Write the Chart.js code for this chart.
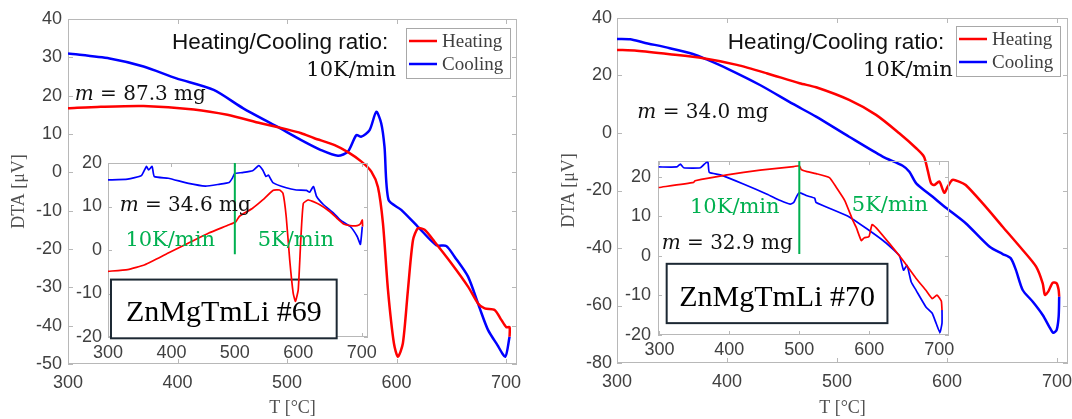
<!DOCTYPE html>
<html>
<head>
<meta charset="utf-8">
<script src="https://cdn.jsdelivr.net/npm/chart.js@4.4.1/dist/chart.umd.min.js"></script>
<style>
  html, body { margin: 0; padding: 0; background: #fff; }
  #wrap { position: relative; width: 1072px; height: 419px; }
  #wrap canvas { position: absolute; left: 0; top: 0; }
</style>
</head>
<body>
<div id="wrap">
  <canvas id="main69" width="1072" height="419"></canvas>
  <canvas id="inset69" width="1072" height="419"></canvas>
  <canvas id="main70" width="1072" height="419"></canvas>
  <canvas id="inset70" width="1072" height="419"></canvas>
</div>
<script>
// tick labels
const tempTicks = [300, 400, 500, 600, 700];
const dtaTicks69 = [-50, -40, -30, -20, -10, 0, 10, 20, 30, 40];
const dtaTicks70 = [-80, -60, -40, -20, 0, 20, 40];
const insetTicks = [-20, -10, 0, 10, 20];

// #69, main plot (10 K/min)
const heat69T = [300, 330, 369, 415, 445.5, 476, 500, 513, 525, 543.5, 556, 568, 577, 583, 587.6, 592.2, 597.6, 601.3, 605.8, 610.4, 615, 619.5, 625.6, 634.7, 650, 665.3, 674.4, 680.5, 689.6, 695.7, 700.3, 703.2, 703.2];
const heat69V = [16.7, 17.1, 17.3, 16.4, 15.0, 12.8, 11.2, 10.2, 8.9, 7.1, 5.2, 2.8, 0.2, -3.8, -13.3, -30.7, -44.6, -48.1, -44.6, -30.7, -17.7, -14.6, -15.0, -18.1, -23.7, -29.8, -34.2, -35.5, -35.9, -38.5, -40.4, -40.4, -42.9];
const cool69T = [300, 338, 369, 399, 433, 460, 491, 513, 531, 546.5, 555.6, 563.3, 567.8, 575.4, 581.5, 586, 589, 592.7, 604.3, 619.5, 636.3, 645.4, 653, 665.3, 676, 683.5, 692, 699.3, 703.2];
const cool69V = [31.0, 29.7, 27.6, 24.5, 21.5, 16.7, 11.9, 8.4, 5.8, 4.3, 5.4, 9.7, 9.3, 11.0, 15.8, 12.8, 6.7, -7.2, -9.8, -14.2, -19.0, -19.2, -22.0, -27.2, -35.5, -41.1, -45.0, -48.1, -42.9];

// #69, inset (10 K/min then 5 K/min)
const heat69iT = [300, 331, 358, 395, 427, 459, 491, 501.5, 507, 528, 544, 560, 570.6, 576, 581, 586.5, 592, 595.6, 600, 604, 608, 616, 634, 650, 661, 671.6, 682, 693, 698, 701, 701.5];
const heat69iV = [-4.9, -4.5, -3.4, -0.7, 1.6, 3.9, 5.8, 6.5, 7.7, 9.6, 11.5, 13.7, 13.8, 13.0, 7.7, -2.2, -9.9, -11.8, -9.1, 2.3, 10.7, 11.5, 10.4, 8.8, 7.3, 6.0, 5.6, 5.6, 6.0, 6.9, 5.4];
const cool69iT = [300, 331, 352.6, 360.6, 364, 369.6, 373, 395, 427, 453.6, 475, 491, 496, 500, 512, 528, 537.6, 544, 549, 553, 560, 581, 597, 613, 618, 624, 629, 640, 655.7, 666, 682, 693, 698, 701];
const cool69iV = [16.1, 16.3, 17.1, 19.2, 18.4, 19.2, 16.9, 16.5, 15.3, 14.7, 15.1, 15.5, 16.5, 17.6, 17.8, 18.2, 19.4, 18.4, 16.9, 17.2, 15.5, 14.3, 13.8, 13.7, 13.3, 14.6, 12.3, 10.4, 8.5, 6.9, 5.4, 3.1, 1.3, 5.4];
const split69T = [500, 500];
const split69V = [20, -1];

// #70, main plot (10 K/min)
const heat70T = [300, 318, 348, 378.5, 409, 436, 466, 481, 511, 535.5, 556.6, 572, 579, 582.4, 585.5, 588.5, 593, 597.5, 600.6, 605, 611, 617, 632.5, 650.6, 668.8, 681, 687, 689, 692, 696, 699.7, 701.5, 702];
const heat70V = [28.9, 28.6, 27.4, 26.0, 23.7, 20.8, 17.3, 15.9, 11.5, 6.3, -0.1, -5.3, -8.2, -12.9, -17.5, -18.1, -16.9, -20.8, -18.7, -16.3, -16.9, -18.1, -24.5, -32.6, -40.7, -46.5, -52.3, -56.3, -55.2, -52.1, -52.3, -54.6, -56.9];
const cool70T = [300, 312, 324, 348, 369, 381.5, 399.7, 430, 460, 481, 511, 541.5, 559.7, 565.8, 572, 587, 599, 617, 638.5, 650.6, 658, 662.7, 668.8, 678, 687, 693, 696.6, 699.7, 701.5, 702];
const cool70V = [32.7, 32.6, 31.5, 29.5, 27.5, 25.6, 22.5, 16.7, 10.1, 5.7, -1.3, -8.2, -11.4, -13.5, -17.5, -22.2, -26.0, -31.4, -39.5, -42.1, -43.6, -47.7, -54.6, -58.7, -63.3, -67.4, -69.5, -68.5, -63.9, -56.9];

// #70, inset (10 K/min then 5 K/min)
const heat70iT = [299, 349, 351, 396.7, 444, 492, 500, 503, 511, 524, 543, 553, 565, 576.7, 581.4, 588.6, 593, 599.6, 604, 610, 629, 648, 667, 681, 690, 696.7, 703, 704];
const heat70iV = [17.3, 18.6, 19.0, 20.5, 21.7, 22.6, 22.8, 21.8, 21.3, 20.8, 19.8, 17.3, 14.0, 8.9, 7.2, 3.9, 4.6, 4.9, 7.9, 7.1, 3.1, -1.1, -5.7, -8.7, -10.8, -9.9, -11.4, -13.7];
const cool70iT = [299, 325, 330, 334.7, 358.6, 366.7, 369.5, 371.4, 387, 420, 454, 473, 487, 492, 496.7, 500, 511, 522, 524, 572, 619.6, 643, 649, 654, 660, 667, 681, 690, 695.7, 701, 704, 704];
const cool70iV = [22.5, 22.5, 23.2, 22.3, 22.3, 23.6, 23.6, 21.1, 20.5, 18.2, 15.6, 14.0, 13.1, 13.5, 15.2, 16.0, 15.2, 14.6, 13.5, 9.8, 3.9, 0.1, -3.6, -2.4, -6.6, -8.7, -12.9, -14.5, -17.1, -19.4, -17.0, -13.7];
const split70T = [500, 500];
const split70V = [24, 0.5];

const RED = '#ff0000', BLUE = '#0000ff', GREEN = '#00b050';
const TICK_FONT = { family: 'Liberation Sans, Arial, sans-serif', size: 18 };
const SANS = 'Liberation Sans, Arial, sans-serif';
const SERIF = 'Liberation Serif, Times New Roman, serif';
const MATH = 'DejaVu Serif, serif';

function pts(xs, ys) {
  return xs.map((x, i) => ({ x: x, y: ys[i] }));
}

function series(label, xs, ys, color, width, tension) {
  return {
    label: label, data: pts(xs, ys), showLine: true, borderColor: color,
    backgroundColor: color, borderWidth: width, pointRadius: 0, tension: tension || 0
  };
}

// frame with inward ticks, label box, free texts and legend
const boxPlugin = {
  id: 'box',
  beforeDatasetsDraw(chart, args, opts) {
    const a = chart.chartArea, ctx = chart.ctx;
    const sx = chart.scales.x, sy = chart.scales.y;
    ctx.save();
    ctx.strokeStyle = '#b8b8b8';
    ctx.lineWidth = 1;
    ctx.strokeRect(a.left + 0.5, a.top + 0.5, a.right - a.left - 1, a.bottom - a.top - 1);
    const t = opts.tick;
    ctx.beginPath();
    sx.ticks.forEach(k => {
      const px = Math.round(sx.getPixelForValue(k.value)) + 0.5;
      ctx.moveTo(px, a.bottom); ctx.lineTo(px, a.bottom - t);
      ctx.moveTo(px, a.top); ctx.lineTo(px, a.top + t);
    });
    sy.ticks.forEach(k => {
      const py = Math.round(sy.getPixelForValue(k.value)) + 0.5;
      ctx.moveTo(a.left, py); ctx.lineTo(a.left + t, py);
      ctx.moveTo(a.right, py); ctx.lineTo(a.right - t, py);
    });
    ctx.stroke();
    if (opts.tag) {
      const g = opts.tag;
      const x0 = sx.getPixelForValue(g.x0), x1 = sx.getPixelForValue(g.x1);
      const y0 = sy.getPixelForValue(g.y0), y1 = sy.getPixelForValue(g.y1);
      ctx.fillStyle = '#fff';
      ctx.fillRect(x0, y0, x1 - x0, y1 - y0);
      ctx.strokeStyle = '#1c2833';
      ctx.lineWidth = 2;
      ctx.strokeRect(x0, y0, x1 - x0, y1 - y0);
      ctx.fillStyle = '#000';
      ctx.font = '30px ' + SERIF;
      ctx.textAlign = 'center';
      ctx.textBaseline = 'alphabetic';
      ctx.fillText(g.text, (x0 + x1) / 2, y1 - 17);
    }
    ctx.restore();
  },
  afterDatasetsDraw(chart, args, opts) {
    const a = chart.chartArea, ctx = chart.ctx;
    const sx = chart.scales.x, sy = chart.scales.y;
    ctx.save();
    ctx.textBaseline = 'alphabetic';
    (opts.notes || []).forEach(n => {
      let px = sx.getPixelForValue(n.x);
      const py = sy.getPixelForValue(n.y);
      ctx.fillStyle = n.color || '#000';
      if (n.mass) {
        ctx.textAlign = 'left';
        ctx.font = 'italic 20px ' + MATH;
        ctx.fillText('m', px, py);
        px += ctx.measureText('m').width;
        ctx.font = '20px ' + MATH;
        ctx.fillText(' = ' + n.mass + ' mg', px, py);
        return;
      }
      ctx.font = n.font;
      ctx.textAlign = n.align || 'left';
      ctx.fillText(n.text, px, py);
    });
    if (opts.legend) {
      const w = 104, h = 50;
      const bx = a.right - opts.legend.right - w, by = a.top + opts.legend.top;
      ctx.fillStyle = '#fff';
      ctx.fillRect(bx, by, w, h);
      ctx.strokeStyle = '#a8a8a8';
      ctx.lineWidth = 1;
      ctx.strokeRect(bx + 0.5, by + 0.5, w, h);
      const items = chart.data.datasets.filter(d => d.label);
      items.forEach((d, i) => {
        const ly = by + 13 + i * 23;
        ctx.strokeStyle = d.borderColor;
        ctx.lineWidth = 2.5;
        ctx.beginPath();
        ctx.moveTo(bx + 3, ly); ctx.lineTo(bx + 31, ly);
        ctx.stroke();
        ctx.fillStyle = '#404040';
        ctx.font = '19px ' + SERIF;
        ctx.textAlign = 'left';
        ctx.textBaseline = 'middle';
        ctx.fillText(d.label, bx + 36, ly + 1);
      });
    }
    ctx.restore();
  }
};

function makeChart(id, cfg) {
  return new Chart(document.getElementById(id), {
    type: 'scatter',
    data: { datasets: cfg.datasets },
    options: {
      responsive: false,
      animation: false,
      devicePixelRatio: 1,
      layout: { padding: cfg.pad },
      plugins: { legend: { display: false }, tooltip: { enabled: false }, box: cfg.box },
      scales: {
        x: {
          type: 'linear', min: cfg.xMin, max: cfg.xMax,
          afterBuildTicks: s => { s.ticks = tempTicks.map(v => ({ value: v })); },
          afterFit: s => { s.height = cfg.xH; s.paddingLeft = 0; s.paddingRight = 0; },
          grid: { display: false, drawTicks: false },
          border: { display: false },
          ticks: { font: TICK_FONT, color: '#404040', padding: cfg.xPad, maxRotation: 0, autoSkip: false },
          title: cfg.main ? { display: true, text: 'T [°C]', color: '#505050',
            font: { family: SERIF, size: 18 }, padding: { top: 0, bottom: 0 } } : { display: false }
        },
        y: {
          type: 'linear', min: cfg.yMin, max: cfg.yMax,
          afterBuildTicks: s => { s.ticks = cfg.yTicks.map(v => ({ value: v })); },
          afterFit: s => { s.width = cfg.yW; s.paddingTop = 0; s.paddingBottom = 0; },
          grid: { display: false, drawTicks: false },
          border: { display: false },
          ticks: { font: TICK_FONT, color: '#404040', padding: cfg.yPad, autoSkip: false },
          title: cfg.main ? { display: true, text: 'DTA [\u03bcV]', color: '#505050',
            font: { family: SERIF, size: 18 }, padding: { top: 8, bottom: 0 } } : { display: false }
        }
      }
    },
    plugins: [boxPlugin]
  });
}

// left sample, #69
makeChart('main69', {
  main: true, pad: { left: 0, top: 19, right: 555, bottom: 0 }, yW: 68, xH: 55, xPad: 8, yPad: 6,
  xMin: 300, xMax: 710, yMin: -50, yMax: 40, yTicks: dtaTicks69,
  datasets: [series('Heating', heat69T, heat69V, RED, 2.5, 0.25), series('Cooling', cool69T, cool69V, BLUE, 2.5, 0.25)],
  box: {
    tick: 5,
    legend: { right: 7, top: 9 },
    notes: [
      { text: 'Heating/Cooling ratio:', x: 592.5, y: 32.2, font: '22.5px ' + SANS, align: 'right', color: '#111' },
      { text: '10K/min', x: 599.5, y: 25.1, font: '21px ' + MATH, align: 'right', color: '#111' },
      { mass: '87.3', x: 306.2, y: 18.9, color: '#111' }
    ]
  }
});

makeChart('inset69', {
  main: false, pad: { left: 68, top: 163, right: 704, bottom: 52 }, yW: 40, xH: 30, xPad: 5, yPad: 6,
  xMin: 300, xMax: 710, yMin: -20, yMax: 20, yTicks: insetTicks,
  datasets: [
    series('', split69T, split69V, GREEN, 2),
    series('', heat69iT, heat69iV, RED, 1.7, 0.15),
    series('', cool69iT, cool69iV, BLUE, 1.7, 0.15)
  ],
  box: {
    tick: 4,
    tag: { text: 'ZnMgTmLi #69', x0: 304.7, x1: 660.6, y0: -6.8, y1: -20.3 },
    notes: [
      { mass: '34.6', x: 318.4, y: 9.0, color: '#111' },
      { text: '10K/min', x: 327.4, y: 0.9, font: '21px ' + MATH, color: GREEN },
      { text: '5K/min', x: 536, y: 0.9, font: '21px ' + MATH, color: GREEN }
    ]
  }
});

// right sample, #70
makeChart('main70', {
  main: true, pad: { left: 550, top: 18, right: 4, bottom: 0 }, yW: 67, xH: 56, xPad: 8, yPad: 5,
  xMin: 300, xMax: 710, yMin: -80, yMax: 40, yTicks: dtaTicks70,
  datasets: [series('Heating', heat70T, heat70V, RED, 2.5, 0.25), series('Cooling', cool70T, cool70V, BLUE, 2.5, 0.25)],
  box: {
    tick: 5,
    legend: { right: 8, top: 8 },
    notes: [
      { text: 'Heating/Cooling ratio:', x: 597.5, y: 29.2, font: '22.5px ' + SANS, align: 'right', color: '#111' },
      { text: '10K/min', x: 605.2, y: 19.8, font: '21px ' + MATH, align: 'right', color: '#111' },
      { mass: '34.0', x: 318.5, y: 5.1, color: '#111' }
    ]
  }
});

makeChart('inset70', {
  main: false, pad: { left: 618, top: 161, right: 123, bottom: 54 }, yW: 40, xH: 30, xPad: 4, yPad: 7,
  xMin: 298, xMax: 714, yMin: -20, yMax: 24, yTicks: insetTicks,
  datasets: [
    series('', split70T, split70V, GREEN, 2),
    series('', heat70iT, heat70iV, RED, 1.7, 0.15),
    series('', cool70iT, cool70iV, BLUE, 1.7, 0.15)
  ],
  box: {
    tick: 4,
    tag: { text: 'ZnMgTmLi #70', x0: 310.4, x1: 626, y0: -2.0, y1: -17.0 },
    notes: [
      { text: '10K/min', x: 343.7, y: 10.8, font: '21px ' + MATH, color: GREEN },
      { text: '5K/min', x: 575, y: 11.4, font: '21px ' + MATH, color: GREEN },
      { mass: '32.9', x: 303.3, y: 1.7, color: '#111' }
    ]
  }
});
</script>
</body>
</html>
